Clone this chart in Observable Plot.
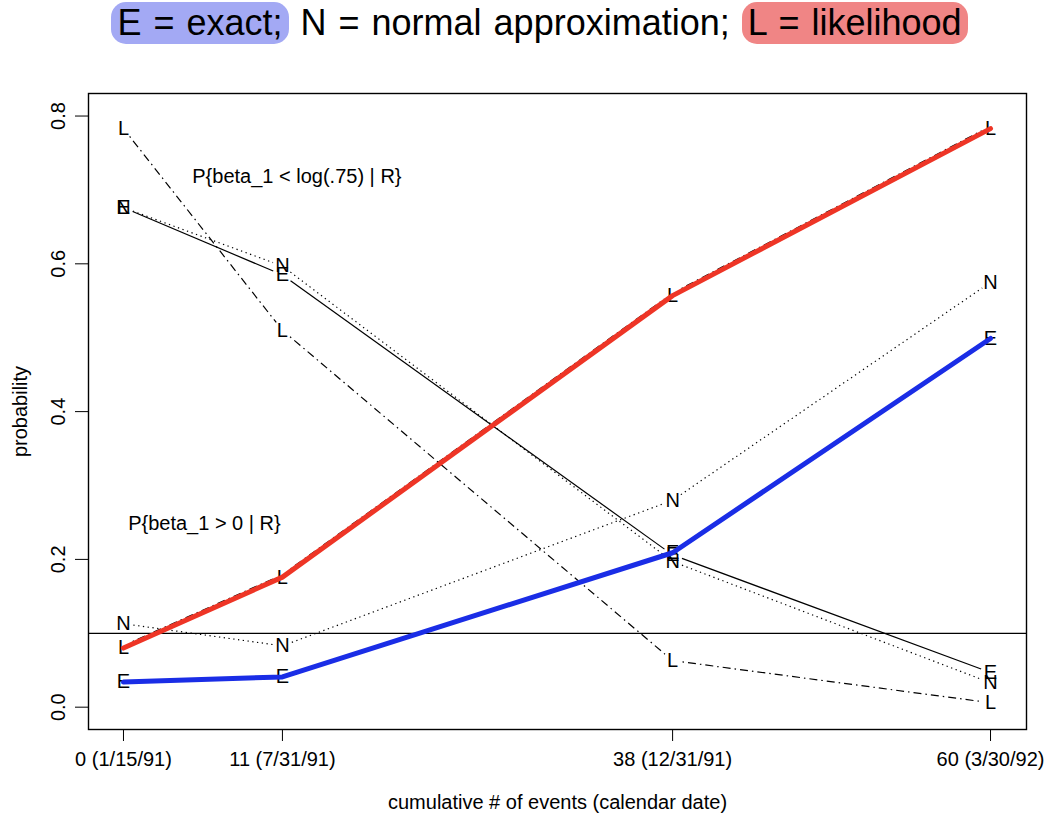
<!DOCTYPE html>
<html><head><meta charset="utf-8">
<script src="https://cdn.jsdelivr.net/npm/d3@7"></script>
<script src="https://cdn.jsdelivr.net/npm/@observablehq/plot@0.6"></script>
<style>
body{margin:0;background:#fff;width:1049px;height:815px;overflow:hidden}
#title{height:46px;display:flex;align-items:center;justify-content:center;font-family:"Liberation Sans",Arial,sans-serif;font-size:36px;word-spacing:2px;color:#000;white-space:pre;padding-left:30px;box-sizing:border-box}
.hl{border-radius:15px;padding:0px 6px}
.b{background:#a3a9f4}
.r{background:#f08585}
</style></head><body>
<div id="title"><span class="hl b">E = exact;</span> N = normal approximation; <span class="hl r">L = likelihood</span></div>
<div id="chart"></div>
<script>
// data
const events = [0, 11, 38, 60];
const dateLabels = ["0 (1/15/91)", "11 (7/31/91)", "38 (12/31/91)", "60 (3/30/92)"];
const yTicks = [0, 0.2, 0.4, 0.6, 0.8];
// P{beta_1 < log(.75) | R}
const lessExact  = [0.676, 0.585, 0.206, 0.047];
const lessNormal = [0.676, 0.597, 0.197, 0.033];
const lessLik    = [0.783, 0.510, 0.063, 0.006];
// P{beta_1 > 0 | R}
const gtExact  = [0.034, 0.041, 0.209, 0.499];
const gtNormal = [0.113, 0.083, 0.280, 0.575];
const gtLik    = [0.080, 0.176, 0.557, 0.783];
const threshold = 0.1;
const notes = [
  {x: 12, y: 0.718, text: "P{beta_1 < log(.75) | R}"},
  {x: 5.6, y: 0.249, text: "P{beta_1 > 0 | R}"}
];
const xTitle = "cumulative # of events (calendar date)";
const yTitle = "probability";

const series = [
  {letter: "E", v: lessExact, dash: null},
  {letter: "N", v: lessNormal, dash: "1.3,3.5"},
  {letter: "L", v: lessLik, dash: "1.5,4,8,4"},
  {letter: "E", v: gtExact, dash: null},
  {letter: "N", v: gtNormal, dash: "1.3,3.5"},
  {letter: "L", v: gtLik, dash: "1.5,4,8,4"}
];
const segs = s => s.v.slice(0, -1).map((y, i) => ({x1: events[i], y1: y, x2: events[i+1], y2: s.v[i+1]}));
const pts = series.flatMap(s => s.v.map((y, i) => ({x: events[i], y, letter: s.letter})));
const asLine = v => v.map((y, i) => ({x: events[i], y}));

const font = "'Liberation Sans', Arial, Helvetica, sans-serif";
const thinMarks = series.map((s, k) => Plot.arrow(segs(s), {
  x1: "x1", y1: "y1", x2: "x2", y2: "y2", bend: 0, headLength: 0,
  insetStart: 10, insetEnd: 10, stroke: "black", strokeWidth: 1.2,
  strokeLinecap: "butt", strokeDasharray: s.dash, dy: k === 5 ? -2.5 : 0
}));

const chart = Plot.plot({
  width: 1049, height: 769,
  marginLeft: 88, marginRight: 23, marginTop: 47, marginBottom: 86,
  x: {domain: [-2.42, 62.49]},
  y: {domain: [-0.0302, 0.8305]},
  style: {fontFamily: font, fontSize: "20px", background: "white", color: "black", overflow: "visible"},
  marks: [
    Plot.frame({stroke: "black", strokeWidth: 1.4}),
    Plot.axisX({ticks: events, tickFormat: d => dateLabels[events.indexOf(d)], tickSize: 12, tickPadding: 10, label: null}),
    Plot.axisY({ticks: yTicks, tickSize: 13, tickFormat: () => "", label: null}),
    Plot.text(yTicks, {y: d => d, frameAnchor: "left", text: d => d.toFixed(1), rotate: -90, dx: -30, textAnchor: "middle", lineAnchor: "middle"}),
    Plot.text([yTitle], {frameAnchor: "left", text: d => d, rotate: -90, dx: -68, textAnchor: "middle", lineAnchor: "middle"}),
    Plot.text([xTitle], {frameAnchor: "bottom", text: d => d, dy: 73, textAnchor: "middle", lineAnchor: "middle"}),
    ...thinMarks,
    Plot.ruleY([threshold], {stroke: "black", strokeWidth: 1.3}),
    Plot.text(pts, {x: "x", y: "y", text: "letter", textAnchor: "middle", lineAnchor: "middle"}),
    Plot.text(notes, {x: "x", y: "y", text: "text", textAnchor: "middle", lineAnchor: "middle"}),
    Plot.line(asLine(gtExact), {x: "x", y: "y", stroke: "#1a2de6", strokeWidth: 5, strokeLinecap: "round", strokeLinejoin: "round"}),
    Plot.line(asLine(gtLik), {x: "x", y: "y", stroke: "#ee3526", strokeWidth: 5, strokeLinecap: "round", strokeLinejoin: "round"})
  ]
});
document.getElementById("chart").appendChild(chart);
</script>
</body></html>
